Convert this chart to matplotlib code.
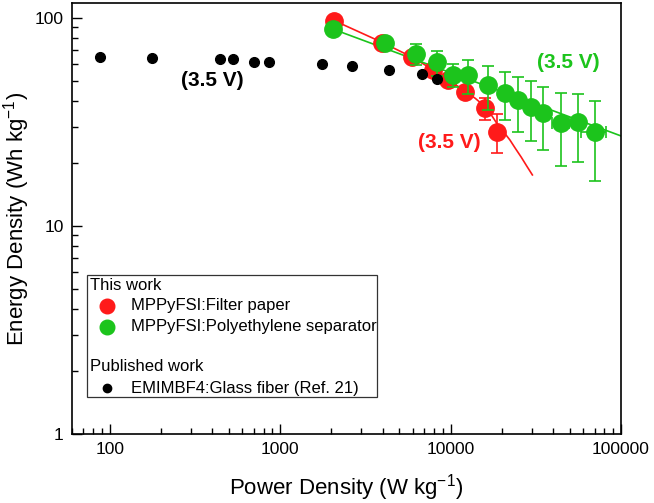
import matplotlib
matplotlib.use("Agg")
import matplotlib.pyplot as plt
from matplotlib.patches import Rectangle
from matplotlib.ticker import FixedLocator, FixedFormatter, LogLocator, NullFormatter
import numpy as np

plt.rcParams['font.family'] = ['Liberation Sans', 'DejaVu Sans']
plt.rcParams['mathtext.fontset'] = 'custom'
plt.rcParams['mathtext.rm'] = 'Liberation Sans'

# ---- data ----
black_x = [87, 177, 442, 530, 703, 858, 1765, 2636, 4330, 6765, 8290]
black_y = [65.2, 64.4, 63.3, 63.3, 61.6, 61.2, 59.9, 59.0, 56.4, 53.6, 50.9]

red_x = [2075, 3940, 5910, 7850, 9700, 12150, 15900, 18650]
red_y = [97.1, 76.1, 65.2, 56.2, 50.3, 44.2, 36.8, 28.4]
red_yerr = [2, 3, 2, 2, 2, 2, 4.3, 6]
red_xerr = [100, 200, 250, 300, 350, 400, 500, 600]

green_x = [2048, 4120, 6265, 8285, 10375, 12600, 16500, 20860, 25000, 29540,
           35000, 44460, 56200, 70150]
green_y = [88.3, 75.6, 67.1, 61.2, 53.2, 53.0, 47.6, 43.7, 40.3, 37.5,
           34.8, 31.4, 31.7, 28.2]
green_yerr = [2, 3, 7.6, 8.4, 6.7, 9.8, 11.4, 11.3, 12, 12, 11.7, 12, 11.5, 11.7]
green_xerr = [100, 250, 300, 400, 450, 500, 700, 900, 1000, 1200, 1500, 5000,
              2500, 12000]

# fitted curves
red_fit_x = [2075, 3940, 5910, 7850, 9700, 12150, 14000, 15900, 17300, 18650,
             20500, 22300, 24000, 26000, 28000, 30200]
red_fit_y = [97.1, 76.5, 65.0, 56.5, 50.5, 44.5, 41.0, 37.5, 34.3, 31.2,
             28.3, 25.9, 23.6, 21.4, 19.4, 17.6]
green_fit_x = [2048, 100000]
green_fit_y = [88.3, 27.1]

RED = '#FF1A1A'
GREEN = '#1CC41C'

fig = plt.figure(figsize=(6.54, 5.03), dpi=100)
ax = fig.add_axes([0.1101, 0.1372, 0.8394, 0.8568])
ax.set_xscale('log')
ax.set_yscale('log')
ax.set_xlim(60, 100000)
ax.set_ylim(1, 118)

ax.plot(red_fit_x, red_fit_y, color=RED, lw=1.2, zorder=2)
ax.plot(green_fit_x, green_fit_y, color=GREEN, lw=1.2, zorder=2)

ax.errorbar(red_x, red_y, yerr=red_yerr, xerr=red_xerr, fmt='o', color=RED,
            ms=12.5, elinewidth=1.2, capsize=4, capthick=1.2, zorder=3)
ax.errorbar(green_x, green_y, yerr=green_yerr, xerr=green_xerr, fmt='o', color=GREEN,
            ms=12.5, elinewidth=1.2, capsize=4, capthick=1.2, zorder=4)
ax.plot(black_x, black_y, 'o', color='black', ms=7, zorder=5)

ax.text(397, 50.0, '(3.5 V)', color='black', fontsize=15, fontweight='bold',
        ha='center', va='center')
ax.text(48900, 61.4, '(3.5 V)', color=GREEN, fontsize=15, fontweight='bold',
        ha='center', va='center')
ax.text(9790, 25.1, '(3.5 V)', color=RED, fontsize=15, fontweight='bold',
        ha='center', va='center')

# axes styling
for s in ax.spines.values():
    s.set_linewidth(1.2)
ax.tick_params(which='both', direction='in', top=False, right=False, labelsize=12.5,
               pad=6)
ax.tick_params(which='major', length=7, width=1.0)
ax.tick_params(which='minor', length=4, width=1.0)
ax.xaxis.set_major_locator(FixedLocator([100, 1000, 10000, 100000]))
ax.xaxis.set_major_formatter(FixedFormatter(['100', '1000', '10000', '100000']))
ax.yaxis.set_major_locator(FixedLocator([1, 10, 100]))
ax.yaxis.set_major_formatter(FixedFormatter(['1', '10', '100']))
ax.xaxis.set_minor_locator(LogLocator(base=10, subs=np.arange(2, 10)))
ax.yaxis.set_minor_locator(LogLocator(base=10, subs=np.arange(2, 10)))
ax.xaxis.set_minor_formatter(NullFormatter())
ax.yaxis.set_minor_formatter(NullFormatter())

ax.set_xlabel('Power Density (W kg$^{-1}$)', fontsize=16, labelpad=11)
ax.set_ylabel('Energy Density (Wh kg$^{-1}$)', fontsize=16, labelpad=2)

# legend drawn in axes coordinates
T = ax.transAxes
ax.add_patch(Rectangle((0.0268, 0.0865), 0.528, 0.2824, transform=T, fill=True,
                       facecolor='white', edgecolor='#333333', lw=0.9, zorder=6))
lf = 12
ax.text(0.0328, 0.3434, 'This work', transform=T, fontsize=lf, va='center', zorder=7)
ax.plot([0.0632], [0.297], 'o', color=RED, ms=10.5, transform=T, clip_on=False, zorder=7)
ax.text(0.1075, 0.297, 'MPPyFSI:Filter paper', transform=T, fontsize=lf, va='center', zorder=7)
ax.plot([0.0632], [0.249], 'o', color=GREEN, ms=10.5, transform=T, clip_on=False, zorder=7)
ax.text(0.1075, 0.249, 'MPPyFSI:Polyethylene separator', transform=T, fontsize=lf,
        va='center', zorder=7)
ax.text(0.0328, 0.156, 'Published work', transform=T, fontsize=lf, va='center', zorder=7)
ax.plot([0.0645], [0.106], 'o', color='black', ms=6, transform=T, clip_on=False, zorder=7)
ax.text(0.1075, 0.106, 'EMIMBF4:Glass fiber (Ref. 21)', transform=T, fontsize=lf,
        va='center', zorder=7)

fig.savefig('out.png', dpi=100)
